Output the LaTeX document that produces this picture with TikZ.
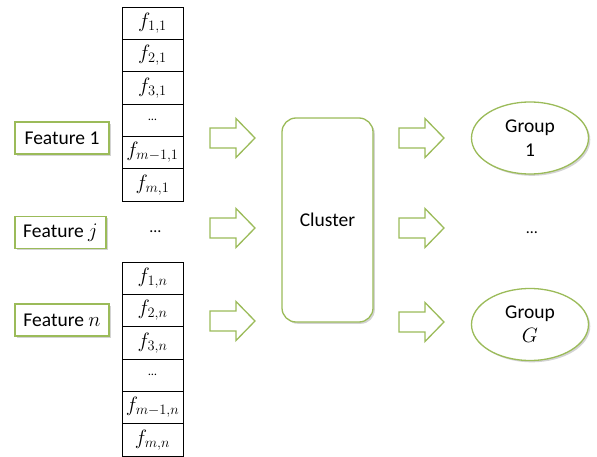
\documentclass[tikz,border=0pt]{standalone}
\usepackage{fontspec}
\setmainfont{Carlito}
\usetikzlibrary{shadows,shapes.geometric}
\definecolor{olivegreen}{HTML}{9BBB59}
\definecolor{shadowgray}{HTML}{C8C8C8}
\newcommand{\barrow}[2]{\draw[blockarr] (#1,#2) ++(0,-10) -- ++(26,0) -- ++(0,-9.5) -- ++(19,19.5) -- ++(-19,19.5) -- ++(0,-9.5) -- ++(-26,0) -- cycle;}
\begin{document}
\begin{tikzpicture}[x=1pt,y=-1pt,
  shad/.style={drop shadow={shadow xshift=1.8pt,shadow yshift=-1.8pt,fill=shadowgray,opacity=0.8}},
  feat/.style={shad,draw=olivegreen,line width=1.3pt,fill=white,minimum width=94pt,minimum height=32pt,inner sep=0pt,font=\fontsize{19.5}{22}\selectfont},
  cell/.style={draw=black,line width=0.8pt,minimum width=61pt,minimum height=32.33pt,inner sep=0pt,font=\fontsize{21}{24}\selectfont},
  blockarr/.style={draw=olivegreen,line width=1.3pt,fill=white,line join=miter},
  clusterbox/.style={shad,draw=olivegreen,line width=1.3pt,fill=white,rounded corners=14pt,minimum width=91pt,minimum height=204pt,inner sep=0pt,font=\fontsize{19.5}{22}\selectfont},
  groupell/.style={shad,ellipse,draw=olivegreen,line width=1.3pt,fill=white,minimum width=117pt,minimum height=72pt,inner sep=0pt,align=center,font=\fontsize{19.5}{24}\selectfont},
  dotsnode/.style={inner sep=0pt,font=\fontsize{16}{18}\selectfont}]
\useasboundingbox (0,0) rectangle (597,457);
% feature boxes
\node[feat] (f1) at (62,138) {Feature 1};
\node[feat,minimum width=91pt] (fj) at (60.5,232.5) {Feature {\fontsize{21}{22}\selectfont$j$}};
\node[feat] (fn) at (62,320) {Feature {\fontsize{21}{22}\selectfont$n$}};
% column 1
\foreach \lab [count=\i] in {{$f_{1,1}$},{$f_{2,1}$},{$f_{3,1}$},{\fontsize{12}{14}\selectfont\ldots},{$f_{m-1,1}$},{$f_{m,1}$}}
  \node[cell] (a\i) at (152.5,{7+16.165+32.33*(\i-1)}) {\lab};
% middle dots
\node[dotsnode] (mdots) at (155.5,232) {\ldots};
% column n
\foreach \lab [count=\i] in {{$f_{1,n}$},{$f_{2,n}$},{$f_{3,n}$},{\fontsize{12}{14}\selectfont\ldots},{$f_{m-1,n}$},{$f_{m,n}$}}
  \node[cell] (b\i) at (152.5,{262+16.165+32.33*(\i-1)}) {\lab};
% left arrows
\barrow{210}{138}
\barrow{210}{228}
\barrow{210}{321}
% cluster
\node[clusterbox] (cl) at (327.5,220) {Cluster};
% right arrows
\barrow{399}{138}
\barrow{399}{228}
\barrow{399}{322}
% groups
\node[groupell] (g1) at (530,138) {Group\\1};
\node[dotsnode] (gdots) at (532,233) {\ldots};
\node[groupell] (gG) at (530,324.5) {Group\\{\fontsize{21}{24}\selectfont$G$}};
\end{tikzpicture}
\end{document}
